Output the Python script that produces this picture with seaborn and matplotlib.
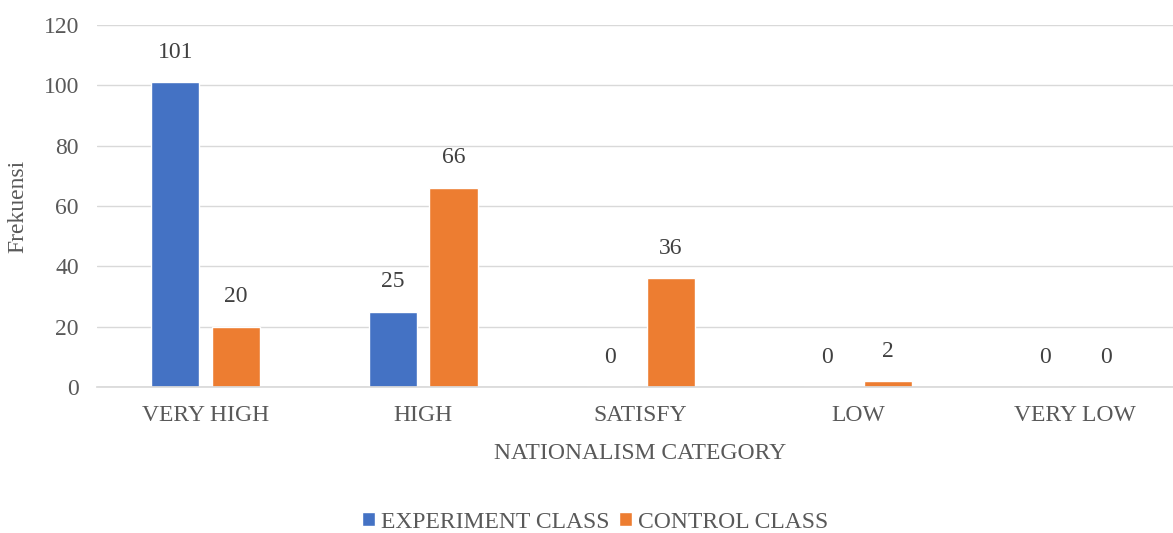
import matplotlib
matplotlib.use("Agg")
import matplotlib.pyplot as plt
import seaborn as sns
import pandas as pd

categories = ["VERY HIGH", "HIGH", "SATISFY", "LOW", "VERY LOW"]
experiment_class = [101, 25, 0, 0, 0]
control_class = [20, 66, 36, 2, 0]
series_names = ["EXPERIMENT CLASS", "CONTROL CLASS"]
colors = ["#4472C4", "#ED7D31"]

df = pd.DataFrame({
    "category": categories * 2,
    "value": experiment_class + control_class,
    "series": [series_names[0]] * len(categories) + [series_names[1]] * len(categories),
})

sns.set_theme(style="white")
plt.rcParams["font.family"] = ["Liberation Serif", "DejaVu Serif"]
text_color = "#595959"
fs = 17

fig = plt.figure(figsize=(11.73, 5.33), dpi=100)
ax = fig.add_axes([97 / 1173, 1 - 387 / 533, 1087 / 1173, 362 / 533])

sns.barplot(data=df, x="category", y="value", hue="series", order=categories,
            hue_order=series_names, palette=colors, width=0.56, gap=0.21,
            saturation=1, ax=ax, legend=True)

ax.set_ylim(0, 120)
ax.set_yticks(range(0, 121, 20))
ax.set_xlim(-0.5, 4.5)
ax.yaxis.grid(True, color="#d9d9d9", linewidth=1)
ax.set_axisbelow(True)
for s in ["left", "right", "top"]:
    ax.spines[s].set_visible(False)
ax.spines["bottom"].set_color("#d9d9d9")
ax.tick_params(axis="both", length=0, labelsize=fs, colors=text_color)
ax.tick_params(axis="x", pad=13)
ax.tick_params(axis="y", pad=13)

for container in ax.containers:
    ax.bar_label(container, fmt="%d", padding=14, fontsize=fs, color="#404040")

ax.set_xlabel("NATIONALISM CATEGORY", fontsize=fs, color=text_color, labelpad=12)
ax.set_ylabel("Frekuensi", fontsize=fs, color=text_color, labelpad=11)

handles, labels = ax.get_legend_handles_labels()
ax.legend_.remove()
fig.legend(handles, labels, loc="center", bbox_to_anchor=(595 / 1173, 1 - 522 / 533),
           ncol=2, frameon=False, fontsize=fs, handlelength=0.55, handleheight=0.55,
           handletextpad=0.25, columnspacing=0.4, labelcolor=text_color)

fig.savefig("out.png", dpi=100)
